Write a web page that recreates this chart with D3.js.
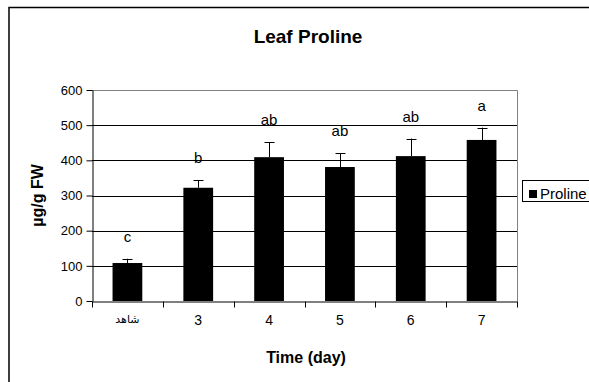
<!DOCTYPE html>
<html>
<head>
<meta charset="utf-8">
<script src="https://cdn.jsdelivr.net/npm/d3@7"></script>
<style>
  html, body { margin: 0; padding: 0; background: #fff; }
  svg { display: block; font-family: "Liberation Sans", Arial, sans-serif; }
</style>
</head>
<body>
<svg id="chart" width="589" height="382"></svg>
<script>
// Leaf proline content over time (µg/g FW)
const categories = ["شاهد", "3", "4", "5", "6", "7"];
const proline = [108, 322, 409, 381, 412, 458];
const errorUp = [12, 22, 42, 39, 50, 35];
const letters = ["c", "b", "ab", "ab", "ab", "a"];
const yTicks = [0, 100, 200, 300, 400, 500, 600];

const svg = d3.select("#chart");
const plot = { left: 92, right: 517, top: 90, bottom: 301 };

// outer chart frame (runs past the right and bottom edges)
svg.append("rect")
  .attr("x", 9).attr("y", 7.5)
  .attr("width", 600).attr("height", 400)
  .attr("fill", "#fff").attr("stroke", "#000").attr("stroke-width", 1.5);

const x = d3.scaleBand()
  .domain(categories)
  .range([plot.left, plot.right])
  .paddingInner(0.58)
  .paddingOuter(0.29);

const y = d3.scaleLinear().domain([0, 600]).range([plot.bottom, plot.top]);

// horizontal gridlines
svg.append("g")
  .selectAll("line")
  .data(yTicks.filter(t => t > 0 && t < 600))
  .join("line")
  .attr("x1", plot.left).attr("x2", plot.right)
  .attr("y1", d => Math.round(y(d)) + 0.5).attr("y2", d => Math.round(y(d)) + 0.5)
  .attr("stroke", "#000").attr("stroke-width", 1);

// plot area border (top and right)
svg.append("path")
  .attr("d", `M${plot.left},${Math.round(y(600)) + 0.5}H${plot.right + 0.5}V${plot.bottom}`)
  .attr("fill", "none").attr("stroke", "#808080").attr("stroke-width", 1);

// bars
svg.append("g")
  .selectAll("rect")
  .data(proline)
  .join("rect")
  .attr("x", (d, i) => x(categories[i]))
  .attr("width", x.bandwidth())
  .attr("y", d => y(d))
  .attr("height", d => y(0) - y(d))
  .attr("fill", "#000");

// upper error bars
const eb = svg.append("g").attr("stroke", "#000").attr("stroke-width", 1);
proline.forEach((v, i) => {
  const cx = Math.round(x(categories[i]) + x.bandwidth() / 2) + 0.5;
  eb.append("line").attr("x1", cx).attr("x2", cx)
    .attr("y1", y(v)).attr("y2", y(v + errorUp[i]));
  eb.append("line").attr("x1", cx - 5).attr("x2", cx + 5)
    .attr("y1", Math.round(y(v + errorUp[i])) + 0.5).attr("y2", Math.round(y(v + errorUp[i])) + 0.5);
});

// significance letters
svg.append("g")
  .selectAll("text")
  .data(letters)
  .join("text")
  .attr("x", (d, i) => x(categories[i]) + x.bandwidth() / 2)
  .attr("y", (d, i) => y(proline[i] + errorUp[i]) - 17)
  .attr("text-anchor", "middle")
  .attr("font-size", 15)
  .attr("fill", "#000")
  .text(d => d);

// y axis
const yAxis = svg.append("g")
  .attr("transform", `translate(${plot.left + 0.5},0)`)
  .call(d3.axisLeft(y).tickValues(yTicks).tickSize(6).tickPadding(4).tickSizeOuter(0));
yAxis.select(".domain").attr("stroke", "#000");
yAxis.selectAll(".tick line").attr("stroke", "#000");
yAxis.selectAll("text").attr("font-size", 13).attr("font-family", "Liberation Sans, Arial, sans-serif").attr("fill", "#000");

// x axis with ticks at category boundaries
const xAxis = svg.append("g")
  .attr("transform", `translate(0,${plot.bottom + 0.5})`)
  .call(d3.axisBottom(x).tickSize(0).tickPadding(14).tickSizeOuter(0));
xAxis.select(".domain").attr("stroke", "#000");
xAxis.selectAll("text")
  .attr("font-size", d => d === categories[0] ? 11 : 14)
  .attr("font-family", d => d === categories[0] ? "DejaVu Sans, sans-serif" : "Liberation Sans, Arial, sans-serif")
  .attr("fill", "#000");
const gap = (x.step() - x.bandwidth()) / 2;
const bounds = categories.map(c => x(c) - gap).concat([plot.right]);
xAxis.selectAll(".bound")
  .data(bounds)
  .join("line")
  .attr("class", "bound")
  .attr("x1", d => Math.round(d) + 0.5).attr("x2", d => Math.round(d) + 0.5)
  .attr("y1", 0).attr("y2", 6)
  .attr("stroke", "#000");

// titles
svg.append("text")
  .attr("x", 308).attr("y", 43)
  .attr("text-anchor", "middle")
  .attr("font-size", 19).attr("font-weight", "bold")
  .text("Leaf Proline");

svg.append("text")
  .attr("x", 306).attr("y", 363)
  .attr("text-anchor", "middle")
  .attr("font-size", 16).attr("font-weight", "bold")
  .text("Time (day)");

svg.append("text")
  .attr("transform", `translate(43,${(plot.top + plot.bottom) / 2}) rotate(-90)`)
  .attr("text-anchor", "middle")
  .attr("font-size", 16).attr("font-weight", "bold")
  .text("µg/g FW");

// legend
const legend = svg.append("g");
legend.append("rect")
  .attr("x", 522.5).attr("y", 180.5).attr("width", 80).attr("height", 21)
  .attr("fill", "#fff").attr("stroke", "#000").attr("stroke-width", 1);
legend.append("rect")
  .attr("x", 529).attr("y", 190).attr("width", 8).attr("height", 8)
  .attr("fill", "#000");
legend.append("text")
  .attr("x", 540).attr("y", 199)
  .attr("font-size", 15)
  .text("Proline");
</script>
</body>
</html>
